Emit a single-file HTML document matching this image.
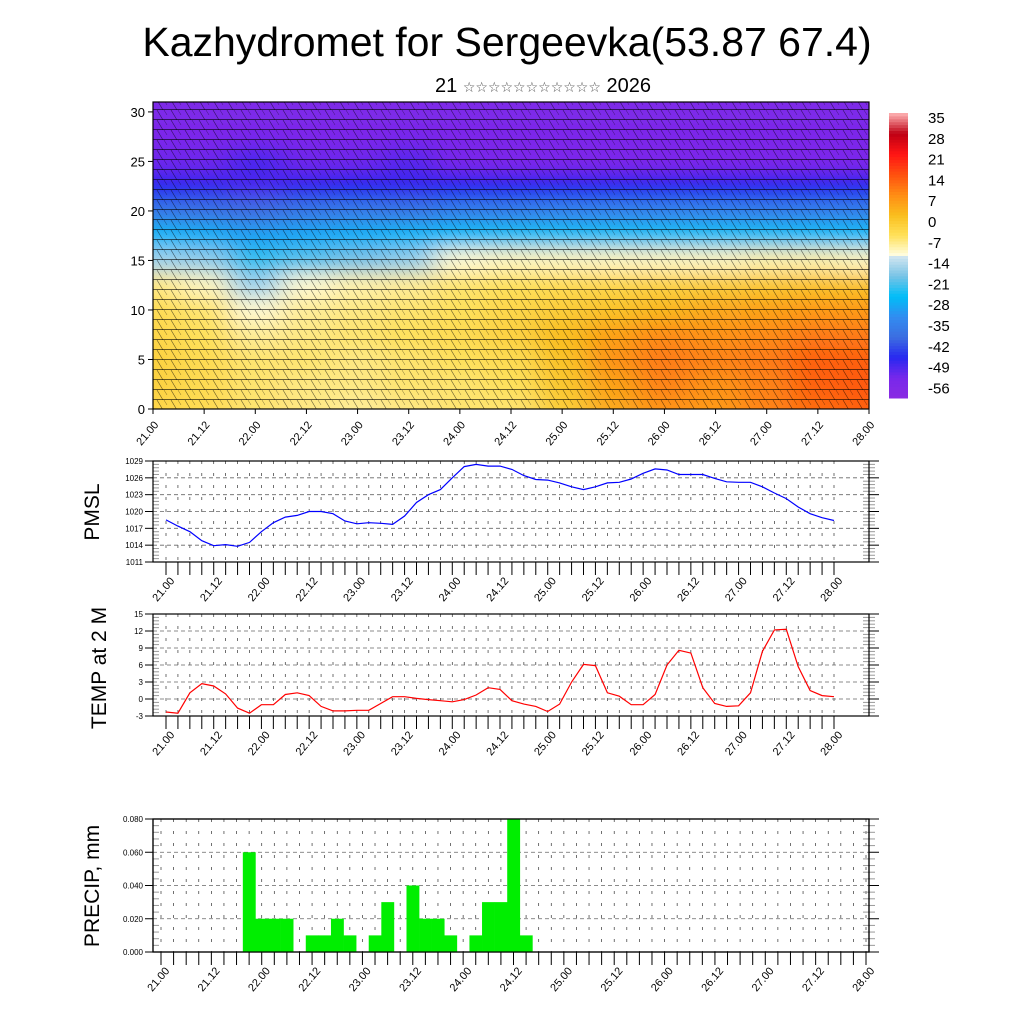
<!DOCTYPE html>
<html><head><meta charset="utf-8">
<style>
html,body{margin:0;padding:0;background:#fff;}
svg{display:block;font-family:"Liberation Sans","DejaVu Sans",sans-serif;}
</style></head>
<body>
<svg id="chart" width="1024" height="1024" viewBox="0 0 1024 1024">
<text x="507" y="56" font-size="41" text-anchor="middle">Kazhydromet for Sergeevka(53.87 67.4)</text>
<text x="543" y="92" font-size="20" text-anchor="middle">21 <tspan font-size="14" fill="#555">☆☆☆☆☆☆☆☆☆☆☆</tspan> 2026</text>
<defs>
<clipPath id="topclip"><rect x="153" y="102" width="716" height="307"/></clipPath>
<filter id="blur" x="-5%" y="-5%" width="110%" height="110%"><feGaussianBlur stdDeviation="14 9"/></filter>
<pattern id="barbs" width="14" height="10" patternUnits="userSpaceOnUse">
<line x1="0" y1="9.5" x2="14" y2="9.5" stroke="#000" stroke-width="0.8" opacity="0.75"/>
<line x1="3" y1="0" x2="9" y2="10" stroke="#000" stroke-width="0.6" opacity="0.6"/>
<line x1="10" y1="0" x2="13" y2="5" stroke="#000" stroke-width="0.5" opacity="0.5"/>
</pattern>
</defs>
<g id="toppanel"></g>
<g id="cbar"></g>
<g id="pmsl"></g>
<g id="temp"></g>
<g id="precip"></g>
<text transform="translate(99,512) rotate(-90)" font-size="21" text-anchor="middle">PMSL</text>
<text transform="translate(106,668) rotate(-90)" font-size="21" text-anchor="middle">TEMP at 2 M</text>
<text transform="translate(99,886) rotate(-90)" font-size="21" text-anchor="middle">PRECIP, mm</text>
</svg>
<script>
const NS="http://www.w3.org/2000/svg";
function mk(tag,attrs,parent,txt){const e=document.createElementNS(NS,tag);for(const k in attrs)e.setAttribute(k,attrs[k]);if(txt!==undefined)e.textContent=txt;parent.appendChild(e);return e;}

// ---------- data ----------
const dayLabels=["21.00","21.12","22.00","22.12","23.00","23.12","24.00","24.12","25.00","25.12","26.00","26.12","27.00","27.12","28.00"];
const pmslValues=[1018.5,1017.4,1016.4,1014.8,1013.9,1014.1,1013.8,1014.5,1016.4,1018.0,1019.0,1019.3,1020.0,1020.0,1019.6,1018.3,1017.8,1018.0,1017.9,1017.7,1019.2,1021.6,1023.0,1023.9,1026.0,1028.0,1028.4,1028.1,1028.1,1027.5,1026.4,1025.7,1025.6,1025.1,1024.4,1023.9,1024.4,1025.1,1025.2,1025.8,1026.8,1027.6,1027.4,1026.6,1026.6,1026.6,1025.9,1025.3,1025.2,1025.2,1024.4,1023.3,1022.3,1020.8,1019.6,1018.9,1018.4];
const pmslTicks=[1011,1014,1017,1020,1023,1026,1029];
const tempValues=[-2.3,-2.5,1.1,2.7,2.3,0.9,-1.6,-2.5,-1.0,-1.0,0.8,1.1,0.6,-1.3,-2.1,-2.1,-2.0,-2.0,-0.8,0.4,0.4,0.1,-0.1,-0.3,-0.5,-0.1,0.7,2.0,1.7,-0.3,-0.9,-1.3,-2.2,-0.9,3.0,6.1,5.9,1.1,0.5,-1.0,-1.0,0.8,6.0,8.6,8.1,2.0,-0.8,-1.3,-1.2,1.1,8.4,12.2,12.3,5.7,1.5,0.6,0.4];
const tempTicks=[-3,0,3,6,9,12,15];
const precipValues=[0,0,0,0,0,0,0,0.06,0.02,0.02,0.02,0,0.01,0.01,0.02,0.01,0,0.01,0.03,0,0.04,0.02,0.02,0.01,0,0.01,0.03,0.03,0.08,0.01,0,0,0,0,0,0,0,0,0,0,0,0,0,0,0,0,0,0,0,0,0,0,0,0,0,0,0];
const precipTicks=["0.000","0.020","0.040","0.060","0.080"];
const levelTicks=[0,5,10,15,20,25,30];
const cbarLabels=[35,28,21,14,7,0,-7,-14,-21,-28,-35,-42,-49,-56];
const fieldLevels=[0,2.5,5,7.5,10,12.5,15,17.5,20,22.5,25,27.5,30];
const fieldRows=[
[-5,-6,-8,-9,-10,-9,-8,-8,-3,3,6,5,8,11,12],
[-4,-6,-8,-9,-9,-8,-8,-7,-2,4,8,6,8,12,13],
[-4,-6,-8,-8,-9,-8,-7,-6,-1,6,9,8,9,12,12],
[-5,-7,-10,-9,-8,-7,-6,-4,0,4,7,6,7,9,9],
[-6,-8,-13,-10,-9,-8,-7,-5,-3,-1,1,3,4,5,5],
[-9,-12,-18,-13,-11,-10,-8,-7,-6,-5,-4,-3,-2,-1,-1],
[-18,-19,-25,-23,-21,-19,-13,-12,-12,-12,-12,-12,-11,-11,-12],
[-29,-30,-32,-31,-30,-29,-28,-27,-27,-27,-27,-27,-27,-28,-28],
[-40,-41,-42,-40,-39,-40,-38,-38,-37,-37,-37,-37,-38,-38,-38],
[-49,-50,-52,-50,-49,-50,-49,-49,-49,-49,-49,-49,-49,-49,-49],
[-55,-55,-52,-55,-55,-53,-56,-57,-57,-57,-57,-57,-57,-57,-57],
[-57,-57,-56,-57,-57,-56,-57,-57,-57,-57,-57,-57,-57,-57,-57],
[-58,-58,-58,-58,-58,-58,-58,-58,-58,-58,-58,-58,-58,-58,-58]];

const cmapStops=[[-63,[138,43,226]],[-56,[120,40,235]],[-49,[40,40,240]],[-42,[60,110,225]],[-35,[50,140,240]],[-28,[0,190,248]],[-21,[120,195,230]],[-14.5,[205,228,240]],[-13.5,[255,252,220]],[-7,[255,225,90]],[0,[250,190,30]],[7,[255,140,20]],[14,[255,80,15]],[21,[255,20,20]],[28,[190,0,20]],[35,[255,180,180]]];
function cmap(v){if(v<=cmapStops[0][0])return cmapStops[0][1];for(let i=1;i<cmapStops.length;i++){if(v<=cmapStops[i][0]){const a=cmapStops[i-1],b=cmapStops[i];const t=(v-a[0])/(b[0]-a[0]);return a[1].map((c,j)=>Math.round(c+(b[1][j]-c)*t));}}return cmapStops[cmapStops.length-1][1];}
function rgb(c){return "rgb("+c.join(",")+")";}

// ---------- top panel ----------
const topG=document.getElementById('toppanel');
const TX0=153,TX1=869,TY0=409,TY31=102;
const txs=h=>TX0+(TX1-TX0)*h/168;
const tys=l=>TY0+(TY31-TY0)*l/31;
const fg=mk('g',{'clip-path':'url(#topclip)'},topG);
mk('rect',{x:TX0,y:TY31,width:716,height:307,fill:rgb(cmap(-57))},fg);
const bg=mk('g',{filter:'url(#blur)'},fg);
fieldRows.forEach((row,ri)=>{row.forEach((v,ci)=>{
  const x0=txs(ci*12-6),x1=txs(ci*12+6);
  const lv=fieldLevels[ri];
  const y0=tys(Math.min(31.5,lv+1.25)+(ri===fieldLevels.length-1?3:0)),y1=tys(lv-1.25-(ri===0?3:0));
  const r=mk('rect',{x:x0-(ci===0?30:0),y:y0,width:x1-x0+(ci===0||ci===14?30:0),height:y1-y0,fill:rgb(cmap(v))},bg);
  
  
});});
const wb=mk('rect',{x:TX0,y:TY31,width:716,height:307,fill:'url(#barbs)'},fg);


mk('rect',{x:TX0,y:TY31,width:716,height:307,fill:'none',stroke:'#000','stroke-width':1.2},topG);
levelTicks.forEach(l=>{const y=tys(l);
  mk('line',{x1:TX0-5,y1:y,x2:TX0,y2:y,stroke:'#000'},topG);
  const t=mk('text',{x:TX0-8,y:y+5,'font-size':13,'text-anchor':'end'},topG,String(l));
  
  });
dayLabels.forEach((lab,i)=>{const x=txs(i*12);
  mk('line',{x1:x,y1:TY0,x2:x,y2:TY0+5,stroke:'#000'},topG);
  const t=mk('text',{transform:`translate(${x+6},${TY0+16}) rotate(-50)`,'font-size':11,'text-anchor':'end'},topG,lab);
  
  });

// ---------- colorbar ----------
const cb=document.getElementById('cbar');
const CBX=889,CBW=19,CBT=113,CBB=398;
const cbY=v=>CBB+(CBT-CBB)*(v+63)/(35+63);
for(let v=-63;v<35;v+=1){mk('rect',{x:CBX,y:cbY(v+1),width:CBW,height:cbY(v)-cbY(v+1)+0.5,fill:rgb(cmap(v+0.5))},cb);}
cbarLabels.forEach((v,i)=>{const y=CBT+4+i*20.8;
  const t=mk('text',{x:928,y:y+6,'font-size':15},cb,String(v));
  
  });

// ---------- line/bar panels ----------
function panel(g,y0,y1,ymin,ymax,ticks,dx0,dx1){
  const X0=153,X1=869;
  const xs=i=>dx0+(dx1-dx0)*i/56;
  const ys=v=>y1+(y0-y1)*(v-ymin)/(ymax-ymin);
  for(let i=0;i<=56;i++){const x=xs(i);
    mk('line',{x1:x,y1:y0,x2:x,y2:y1,stroke:'#333','stroke-width':0.7,'stroke-dasharray':'3 9'},g);
    mk('line',{x1:x,y1:y1,x2:x,y2:y1+13,stroke:'#000','stroke-width':1},g);}
  ticks.forEach(t=>{const y=ys(+t);
    mk('line',{x1:X0,y1:y,x2:X1,y2:y,stroke:'#666','stroke-width':0.8,'stroke-dasharray':'4 3'},g);
    mk('line',{x1:X0-8,y1:y,x2:X0,y2:y,stroke:'#000'},g);
    mk('line',{x1:X1,y1:y,x2:X1+10,y2:y,stroke:'#000'},g);
    const tx=mk('text',{x:X0-10,y:y+3,'font-size':8,'text-anchor':'end'},g,String(t));
    
    });
  for(let k=0;k<ticks.length-1;k++){const a=ys(+ticks[k]),b=ys(+ticks[k+1]);
    for(let m=1;m<5;m++){const y=a+(b-a)*m/5;
      mk('line',{x1:X0,y1:y,x2:X0+6,y2:y,stroke:'#999'},g);
      mk('line',{x1:X1-6,y1:y,x2:X1+6,y2:y,stroke:'#999'},g);}}
  mk('rect',{x:X0,y:y0,width:X1-X0,height:y1-y0,fill:'none',stroke:'#000','stroke-width':1.2},g);
  dayLabels.forEach((lab,i)=>{const x=xs(i*4);
    const t=mk('text',{transform:`translate(${x+9},${y1+19}) rotate(-50)`,'font-size':11,'text-anchor':'end'},g,lab);
    
    });
  return {xs,ys};
}
function drawLine(g,ax,vals,color,name){
  const d=vals.map((v,i)=>(i?'L':'M')+ax.xs(i).toFixed(1)+','+ax.ys(v).toFixed(1)).join('');
  const p=mk('path',{d,fill:'none',stroke:color,'stroke-width':1.2},g);
  
  
}
const pg=document.getElementById('pmsl');
const pax=panel(pg,461,562,1011,1029,pmslTicks,166,834);
drawLine(pg,pax,pmslValues,'#0000ff','pmsl-line');
const tg=document.getElementById('temp');
const tax=panel(tg,614,716,-3,15,tempTicks,166,834);
drawLine(tg,tax,tempValues,'#ff0000','temp-line');
const rg=document.getElementById('precip');
const rax=panel(rg,819,952,0,0.08,precipTicks,161,866);
const bw=(866-161)/56;
precipValues.forEach((v,i)=>{if(v<=0)return;
  const b=mk('rect',{x:rax.xs(i)-bw/2,y:rax.ys(v),width:bw+0.3,height:rax.ys(0)-rax.ys(v),fill:'#00ee00'},rg);
  
  });
mk('rect',{x:153,y:819,width:716,height:133,fill:'none',stroke:'#000','stroke-width':1.2},rg);
</script>
</body></html>
